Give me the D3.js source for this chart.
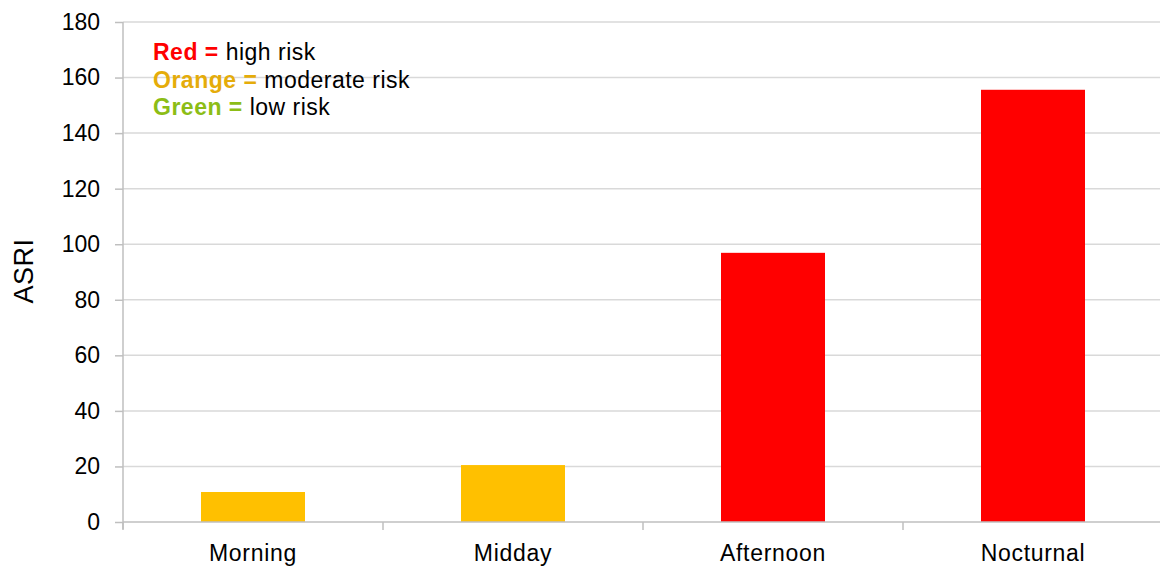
<!DOCTYPE html>
<html><head><meta charset="utf-8">
<script src="https://cdn.jsdelivr.net/npm/d3@7"></script>
<style>body{margin:0;background:#fff}svg{display:block}text{font-family:"Liberation Sans",Arial,Helvetica,sans-serif}</style>
</head><body>
<svg id="c" width="1160" height="569"></svg>
<script>
const categories = ["Morning","Midday","Afternoon","Nocturnal"];
const values = [10.8, 20.5, 96.9, 155.6];
const barColors = ["#ffc000","#ffc000","#ff0000","#ff0000"];
const yTicks = [0,20,40,60,80,100,120,140,160,180];
const legendKeys = ["Red =","Orange =","Green ="];
const legendTexts = [" high risk"," moderate risk"," low risk"];
const legendColors = ["#ff0000","#e5ac0a","#8cbd16"];

const svg = d3.select("#c");
const x = d3.scaleBand().domain(categories).range([123,1163]).padding(0);
const y = d3.scaleLinear().domain([0,180]).range([522,22]);

// gridlines
svg.append("g").selectAll("line").data(yTicks.filter(d=>d>0)).join("line")
  .attr("x1",123).attr("x2",1160).attr("y1",d=>y(d)).attr("y2",d=>y(d))
  .attr("stroke","#d9d9d9").attr("stroke-width",1.5);

// bars
svg.append("g").selectAll("rect").data(values).join("rect")
  .attr("x",(d,i)=>x(categories[i])+x.bandwidth()*0.3)
  .attr("width",x.bandwidth()*0.4)
  .attr("y",d=>y(d)).attr("height",d=>y(0)-y(d))
  .attr("fill",(d,i)=>barColors[i]);

// y axis
const ya = svg.append("g").attr("transform","translate(123,0)")
  .call(d3.axisLeft(y).tickValues(yTicks).tickSize(8).tickPadding(15));
ya.select(".domain").attr("stroke","#bfbfbf").attr("stroke-width",1.5).attr("d","M0,22V529");
ya.selectAll(".tick line").attr("stroke","#bfbfbf").attr("stroke-width",1.5);
ya.selectAll(".tick text").attr("font-size",23).attr("fill","#000").attr("font-family","Liberation Sans, Arial, sans-serif");

// x axis
const xa = svg.append("g").attr("transform","translate(0,522)")
  .call(d3.axisBottom(x).tickSize(0).tickPadding(23));
xa.select(".domain").attr("stroke","#bfbfbf").attr("stroke-width",1.5).attr("d","M123,0H1160");
xa.selectAll(".tick text").attr("font-size",23).attr("letter-spacing",0.7).attr("fill","#000").attr("font-family","Liberation Sans, Arial, sans-serif");
// x category separators
svg.append("g").selectAll("line").data(categories).join("line")
  .attr("x1",d=>x(d)).attr("x2",d=>x(d)).attr("y1",522).attr("y2",530)
  .attr("stroke","#bfbfbf").attr("stroke-width",1.5);

// y label
svg.append("text").attr("transform","translate(33,271) rotate(-90)")
  .attr("text-anchor","middle").attr("font-size",27).attr("letter-spacing",0.5).text("ASRI");

// legend
const lg = svg.append("g");
legendKeys.forEach((k,i)=>{
  const t = lg.append("text").attr("x",153).attr("y",60+i*27.5).attr("font-size",23).attr("letter-spacing",0.5);
  t.append("tspan").attr("font-weight","bold").attr("fill",legendColors[i]).text(k);
  t.append("tspan").attr("fill","#000").text(legendTexts[i]);
});
</script>
</body></html>
